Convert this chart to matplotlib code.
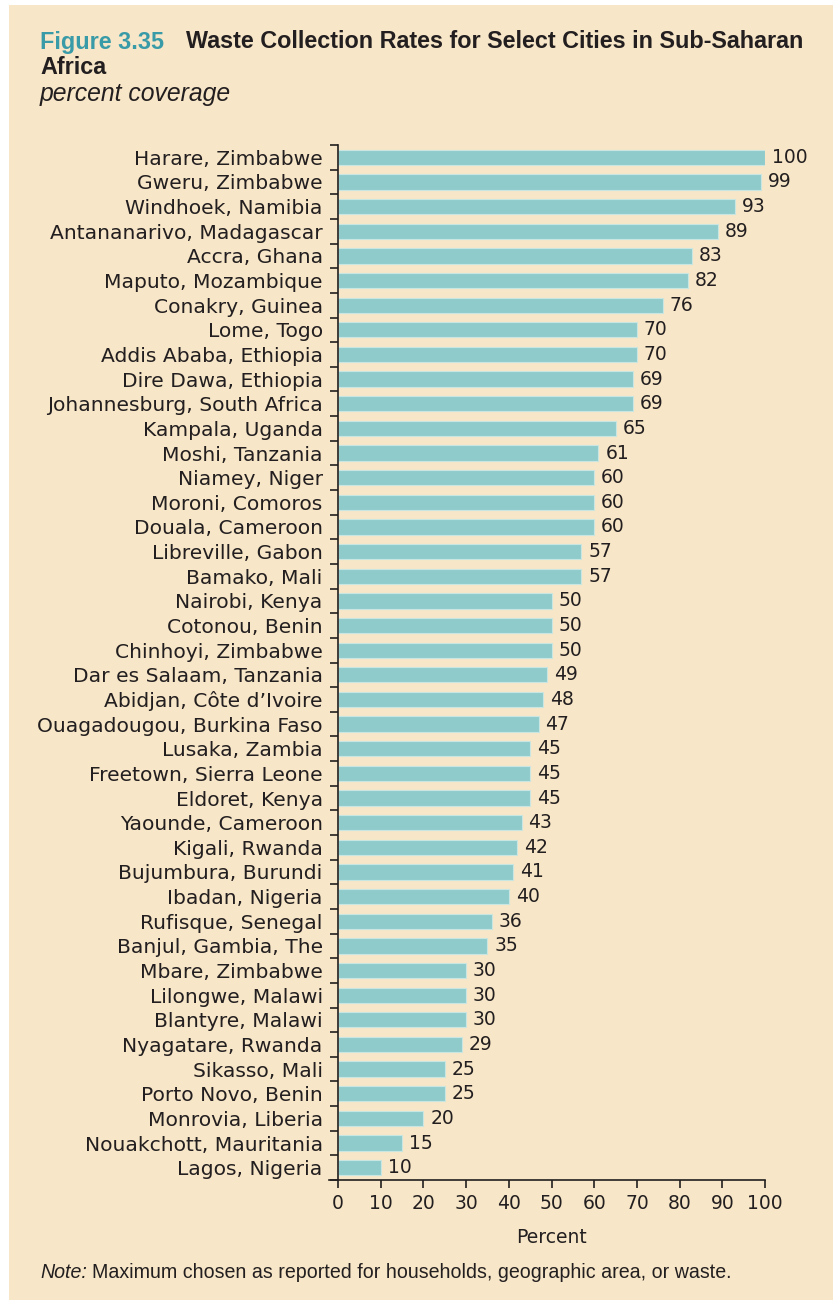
import matplotlib.pyplot as plt
from matplotlib.patches import Rectangle

# --- DATOS ---
ciudades = [
    'Harare, Zimbabwe', 'Gweru, Zimbabwe', 'Windhoek, Namibia', 'Antananarivo, Madagascar',
    'Accra, Ghana', 'Maputo, Mozambique', 'Conakry, Guinea', 'Lome, Togo',
    'Addis Ababa, Ethiopia', 'Dire Dawa, Ethiopia', 'Johannesburg, South Africa', 'Kampala, Uganda',
    'Moshi, Tanzania', 'Niamey, Niger', 'Moroni, Comoros', 'Douala, Cameroon',
    'Libreville, Gabon', 'Bamako, Mali', 'Nairobi, Kenya', 'Cotonou, Benin',
    'Chinhoyi, Zimbabwe', 'Dar es Salaam, Tanzania', 'Abidjan, Côte d\u2019Ivoire', 'Ouagadougou, Burkina Faso',
    'Lusaka, Zambia', 'Freetown, Sierra Leone', 'Eldoret, Kenya', 'Yaounde, Cameroon',
    'Kigali, Rwanda', 'Bujumbura, Burundi', 'Ibadan, Nigeria', 'Rufisque, Senegal',
    'Banjul, Gambia, The', 'Mbare, Zimbabwe', 'Lilongwe, Malawi', 'Blantyre, Malawi',
    'Nyagatare, Rwanda', 'Sikasso, Mali', 'Porto Novo, Benin', 'Monrovia, Liberia',
    'Nouakchott, Mauritania', 'Lagos, Nigeria',
]
cobertura = [100, 99, 93, 89, 83, 82, 76, 70, 70, 69, 69, 65, 61, 60, 60, 60, 57, 57,
             50, 50, 50, 49, 48, 47, 45, 45, 45, 43, 42, 41, 40, 36, 35, 30, 30, 30,
             29, 25, 25, 20, 15, 10]
ticks_x = [0, 10, 20, 30, 40, 50, 60, 70, 80, 90, 100]

FONDO = '#F7E6C7'
BARRA = '#8FCBCB'
TEXTO = '#231F20'
TITULO_COLOR = '#3A9BA8'

W, H = 833, 1305
fig = plt.figure(figsize=(W / 100, H / 100), dpi=100)
fig.patch.set_facecolor('white')
fig.patches.append(Rectangle((9 / W, 0.004), 1 - 9 / W, 1 - 5 / H - 0.004,
                             transform=fig.transFigure, facecolor=FONDO,
                             edgecolor='none', zorder=-5))

cond = ['Liberation Sans', 'DejaVu Sans']
fig.text(40 / W, 1 - 42 / H, 'Figure 3.35', color=TITULO_COLOR, fontsize=16.8,
         fontweight='bold', family=cond, va='center')
fig.text(186 / W, 1 - 42 / H, 'Waste Collection Rates for Select Cities in Sub-Saharan',
         color=TEXTO, fontsize=16.8, fontweight='bold', family=cond, va='center')
fig.text(40 / W, 1 - 68 / H, 'Africa', color=TEXTO, fontsize=16.8,
         fontweight='bold', family=cond, va='center')
fig.text(40 / W, 1 - 94 / H, 'percent coverage', color=TEXTO, fontsize=17.8,
         style='italic', family=cond, va='center')

# --- EJES ---
x0, x1 = 338, 765
y_top, y_bot = 145, 1180
ax = fig.add_axes([x0 / W, 1 - y_bot / H, (x1 - x0) / W, (y_bot - y_top) / H])
ax.set_facecolor('none')

n = len(ciudades)
pos = list(range(n))
ax.barh(pos, cobertura, height=0.62, color=BARRA, edgecolor='#C9E6E2', linewidth=0.8)
for p, v in zip(pos, cobertura):
    ax.text(v + 1.6, p, str(v), va='center', ha='left', fontsize=13.5, color=TEXTO)

ax.set_ylim(n - 0.5, -0.5)
ax.set_xlim(0, 100)
ax.set_yticks([p - 0.5 for p in pos] + [n - 0.5])
ax.set_yticklabels([])
ax.set_yticks(pos, minor=True)
ax.set_yticklabels(ciudades, minor=True, fontsize=14.6, color=TEXTO)
ax.tick_params(axis='y', which='minor', length=0, pad=11)
ax.tick_params(axis='y', which='major', length=6, width=1.2, color=TEXTO)

ax.set_xticks(ticks_x)
ax.set_xticklabels([str(t) for t in ticks_x], fontsize=13.5, color=TEXTO)
ax.tick_params(axis='x', length=6, width=1.2, color=TEXTO, pad=4)
ax.set_xlabel('Percent', fontsize=13.5, color=TEXTO, labelpad=11)

for s in ['top', 'right']:
    ax.spines[s].set_visible(False)
for s in ['left', 'bottom']:
    ax.spines[s].set_linewidth(1.2)
    ax.spines[s].set_color(TEXTO)
ax.spines['bottom'].set_bounds(-2, 100)

fig.text(40 / W, 1 - 1272 / H, 'Note:', style='italic', fontsize=14.1,
         color=TEXTO, family=cond, va='center')
fig.text(92 / W, 1 - 1272 / H,
         'Maximum chosen as reported for households, geographic area, or waste.',
         fontsize=14.1, color=TEXTO, family=cond, va='center')

fig.savefig('out.png', dpi=100, facecolor=fig.get_facecolor())
